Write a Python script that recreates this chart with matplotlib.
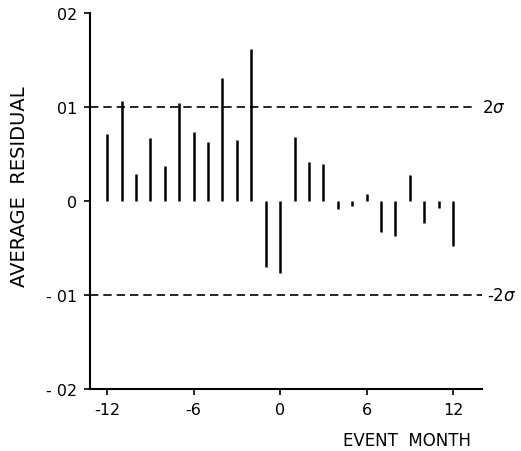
import matplotlib
matplotlib.use("Agg")
from matplotlib import pyplot as plt

plt.rcParams['font.family'] = ['DejaVu Sans']

# event months and average residuals
months = list(range(-12, 13))
residuals = [0.0071, 0.0106, 0.0028, 0.0067, 0.0037, 0.0104, 0.0073, 0.0062,
             0.0131, 0.0065, 0.0161, -0.0070, -0.0077, 0.0068, 0.0041, 0.0039,
             -0.0009, -0.0006, 0.0007, -0.0033, -0.0037, 0.0027, -0.0024,
             -0.0008, -0.0048]
sigma2 = 0.01
x_ticks = [-12, -6, 0, 6, 12]
y_ticks = [0.02, 0.01, 0.0, -0.01, -0.02]
y_labels = ["02", "01", "0", "- 01", "- 02"]

fig = plt.figure(figsize=(5.21, 4.52), dpi=100)
ax = fig.add_axes([0.1727, 0.137, 0.752, 0.833])

ax.vlines(months, 0, residuals, colors="black", linewidth=1.8)
ax.hlines(sigma2, -13.2, 13.3, color="black", linestyle=(0, (5, 3)), linewidth=1.2)
ax.hlines(-sigma2, -13.2, 14.2, color="black", linestyle=(0, (5, 3)), linewidth=1.2)

ax.set_xlim(-13.2, 14.0)
ax.set_ylim(-0.02, 0.02)
ax.set_xticks(x_ticks)
ax.set_xticklabels([str(t) for t in x_ticks])
ax.set_yticks(y_ticks)
ax.set_yticklabels(y_labels)
ax.tick_params(direction="out", length=4, width=1.2, labelsize=11.5, pad=5)

for s in ["top", "right"]:
    ax.spines[s].set_visible(False)
for s in ["left", "bottom"]:
    ax.spines[s].set_linewidth(1.5)

ax.text(14.0, sigma2, "2$\\sigma$", va="center", ha="left", fontsize=12,
        clip_on=False)
ax.text(14.35, -sigma2, "-2$\\sigma$", va="center", ha="left", fontsize=12,
        clip_on=False)

fig.text(0.037, 0.586, "AVERAGE  RESIDUAL", rotation=90, va="center",
         ha="center", fontsize=14)
fig.text(0.782, 0.024, "EVENT  MONTH", va="center", ha="center", fontsize=12)

fig.savefig("out.png", dpi=100)
